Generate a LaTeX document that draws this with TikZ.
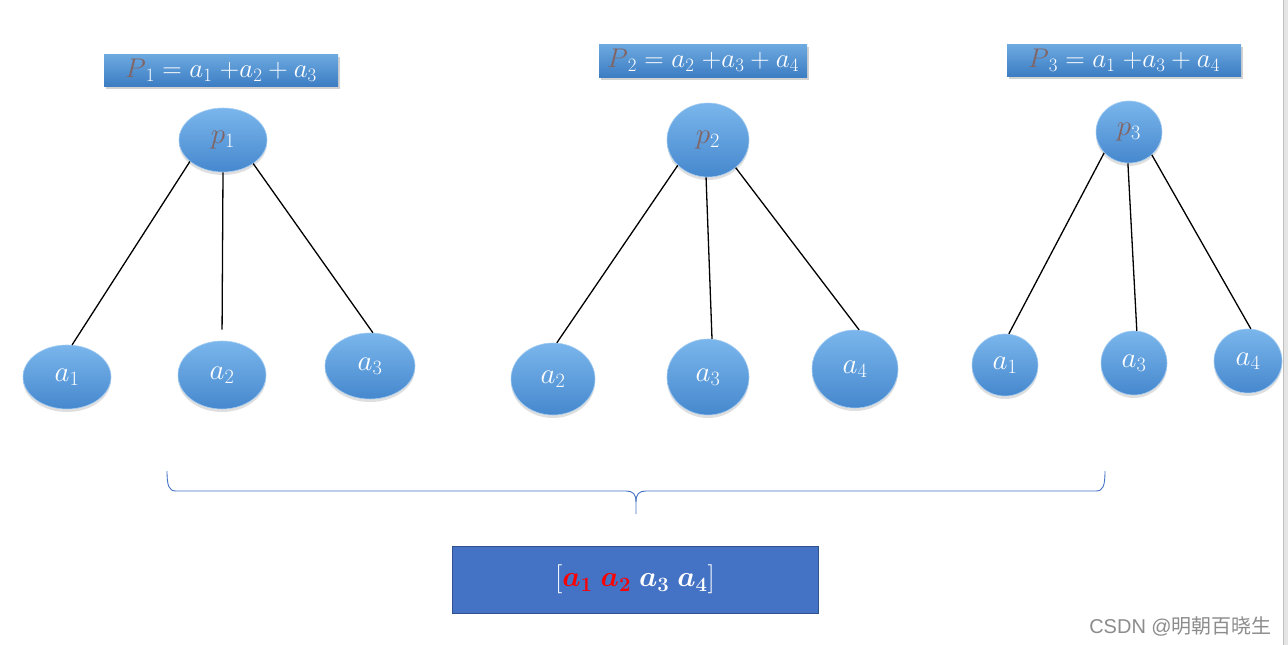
\RequirePackage{fix-cm}
\documentclass[tikz,border=0pt]{standalone}
\usepackage{amsmath}
\usepackage{bm}
\usepackage{fontspec}
\newfontfamily\cjk{Noto Sans CJK SC}
\usetikzlibrary{shapes.geometric,shadows}
\definecolor{ballTop}{RGB}{122,182,236}
\definecolor{ballBot}{RGB}{70,136,206}
\definecolor{boxTop}{RGB}{110,170,225}
\definecolor{boxBot}{RGB}{60,125,195}
\definecolor{pbrown}{RGB}{130,100,100}
\definecolor{braceblue}{RGB}{68,114,196}
\definecolor{resblue}{RGB}{68,114,196}
\definecolor{resborder}{RGB}{47,82,143}
\tikzset{
  ball/.style={ellipse, top color=ballTop, bottom color=ballBot, draw=ballTop!70!white, line width=0.6pt,
     drop shadow={shadow xshift=0pt, shadow yshift=-3pt, opacity=0.25}, inner sep=0pt,
     text=white, font=\fontsize{29}{32}\selectfont},
  labbox/.style={rectangle, top color=boxTop, bottom color=boxBot, inner sep=0pt,
     drop shadow={shadow xshift=1.5pt, shadow yshift=-2.5pt, opacity=0.35},
     text=white, font=\fontsize{27}{30}\selectfont},
  edge/.style={black, line width=1.3pt},
}
\begin{document}
\begin{tikzpicture}[x=1pt,y=-1pt]
\useasboundingbox (0,0) rectangle (1288,645);
\fill[white] (0,0) rectangle (1288,645);
\fill[black!10] (1283,0) rectangle (1288,645);
\draw[black!25, line width=0.8pt] (1283.5,0) -- (1283.5,645);

% label boxes
\node[labbox, minimum width=234pt, minimum height=32pt] (l1) at (221,70) {\textcolor{pbrown}{$P$}$_1 = a_1\;{+}a_2 + a_3$};
\node[labbox, minimum width=208pt, minimum height=33pt] (l2) at (703,60.5) {\textcolor{pbrown}{$P$}$_2 = a_2\;{+}a_3 + a_4$};
\node[labbox, minimum width=234pt, minimum height=32pt] (l3) at (1124,60) {\textcolor{pbrown}{$P$}$_3 = a_1\;{+}a_3 + a_4$};

% parent balls
\node[ball, minimum width=88pt, minimum height=64pt] (p1) at (223,140) {\textcolor{pbrown}{$p$}$_1$};
\node[ball, minimum width=82pt, minimum height=74pt] (p2) at (708,140) {\textcolor{pbrown}{$p$}$_2$};
\node[ball, minimum width=66pt, minimum height=62pt] (p3) at (1129,132) {\textcolor{pbrown}{$p$}$_3$};

% children
\node[ball, minimum width=88pt, minimum height=64pt] (c11) at (67,377) {$a_1$};
\node[ball, minimum width=88pt, minimum height=68pt] (c12) at (222,375) {$a_2$};
\node[ball, minimum width=90pt, minimum height=66pt] (c13) at (370,366) {$a_3$};

\node[ball, minimum width=84pt, minimum height=72pt] (c21) at (553,379) {$a_2$};
\node[ball, minimum width=82pt, minimum height=76pt] (c22) at (708,377) {$a_3$};
\node[ball, minimum width=86pt, minimum height=78pt] (c23) at (855,369) {$a_4$};

\node[ball, minimum width=66pt, minimum height=62pt] (c31) at (1005,365) {$a_1$};
\node[ball, minimum width=66pt, minimum height=64pt] (c32) at (1134,363) {$a_3$};
\node[ball, minimum width=68pt, minimum height=64pt] (c33) at (1248,361) {$a_4$};

% edges
\draw[edge] (p1.213) -- (c11.81);
\draw[edge, shorten >=11pt] (p1.270) -- (c12.90);
\draw[edge] (p1.322) -- (c13.85);
\draw[edge] (p2.220) -- (c21.84);
\draw[edge] (p2.267) -- (c22.84);
\draw[edge] (p2.315) -- (c23.84);
\draw[edge] (p3.220) -- (c31.83);
\draw[edge] (p3.268) -- (c32.85);
\draw[edge] (p3.315) -- (c33.85);

% brace
\coordinate (bl) at (167,471);
\coordinate (br) at (1105,471);
\coordinate (bt) at (636,514);
\draw[braceblue, line width=0.9pt]
  (bl) .. controls (167,486) and (169,491) .. (176,491) -- (626,491)
  .. controls (633,491) and (636,494) .. (636,502) -- (bt);
\draw[braceblue, line width=0.9pt]
  (br) .. controls (1105,486) and (1103,491) .. (1096,491) -- (646,491)
  .. controls (639,491) and (636,494) .. (636,502);

% result box
\node[rectangle, fill=resblue, draw=resborder, line width=0.8pt, minimum width=366pt, minimum height=67pt, inner sep=0pt,
  font=\fontsize{29}{32}\selectfont, text=white] (res) at (635,579.5)
  {$[\bm{\textcolor{red}{a_1}\;\textcolor{red}{a_2}\;a_3\;a_4}]$};

% watermark
\node[anchor=east, text=black!45, font=\fontsize{20}{22}\selectfont, inner sep=0pt] (wm) at (1272,626)
  {\fontspec{Liberation Sans}CSDN @\cjk 明朝百晓生};
\end{tikzpicture}
\end{document}
